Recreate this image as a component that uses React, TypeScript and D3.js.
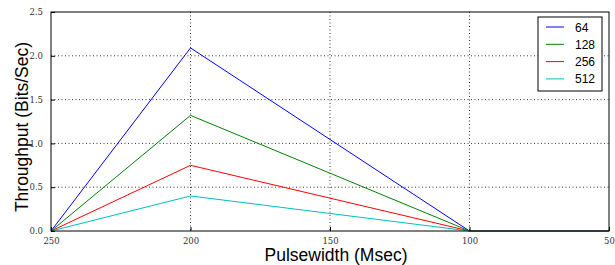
import { useEffect, useRef } from 'react';
import * as d3 from 'd3';

const pulseWidths = [250, 200, 100, 50];
const seriesNames = ['64', '128', '256', '512'];
const throughput64 = [0, 2.09, 0, 0];
const throughput128 = [0, 1.32, 0, 0];
const throughput256 = [0, 0.75, 0, 0];
const throughput512 = [0, 0.4, 0, 0];
const xTicks = [250, 200, 150, 100, 50];
const yTicks = [0, 0.5, 1.0, 1.5, 2.0, 2.5];

const seriesColours = ['#0000ff', '#008000', '#ff0000', '#00bfbf'];

const App = () => {
  const svgRef = useRef(null);

  useEffect(() => {
    const width = 615;
    const height = 265;
    const margin = { top: 12, right: 6, bottom: 34, left: 51 };

    const svg = d3.select(svgRef.current);
    svg.selectAll('*').remove();

    const xScale = d3
      .scaleLinear()
      .domain([250, 50])
      .range([margin.left, width - margin.right]);
    const yScale = d3
      .scaleLinear()
      .domain([0, 2.5])
      .range([height - margin.bottom, margin.top]);

    const tickFont = "'DejaVu Serif', 'Liberation Serif', serif";
    const labelFont = "'Liberation Sans', Arial, sans-serif";

    // grid
    const grid = svg.append('g');
    grid
      .selectAll('.ygrid')
      .data(yTicks.slice(1, -1))
      .enter()
      .append('line')
      .attr('x1', margin.left)
      .attr('x2', width - margin.right)
      .attr('y1', (d) => yScale(d))
      .attr('y2', (d) => yScale(d))
      .attr('stroke', '#000')
      .attr('stroke-width', 0.8)
      .attr('stroke-dasharray', '1,2.5');
    grid
      .selectAll('.xgrid')
      .data(xTicks.slice(1, -1))
      .enter()
      .append('line')
      .attr('x1', (d) => xScale(d))
      .attr('x2', (d) => xScale(d))
      .attr('y1', margin.top)
      .attr('y2', height - margin.bottom)
      .attr('stroke', '#000')
      .attr('stroke-width', 0.8)
      .attr('stroke-dasharray', '1,2.5');

    // lines
    const allSeries = [throughput64, throughput128, throughput256, throughput512];
    const lineGenerator = d3
      .line<number>()
      .x((d, i) => xScale(pulseWidths[i]))
      .y((d) => yScale(d));

    allSeries.forEach((values, i) => {
      svg
        .append('path')
        .attr('fill', 'none')
        .attr('stroke', seriesColours[i])
        .attr('stroke-width', 1)
        .attr('d', lineGenerator(values));
    });

    // frame
    svg
      .append('rect')
      .attr('x', margin.left)
      .attr('y', margin.top)
      .attr('width', width - margin.left - margin.right)
      .attr('height', height - margin.top - margin.bottom)
      .attr('fill', 'none')
      .attr('stroke', '#000')
      .attr('stroke-width', 1);

    // axes (ticks inward)
    const xAxis = d3
      .axisBottom(xScale)
      .tickValues(xTicks)
      .tickSizeInner(-4)
      .tickSizeOuter(0)
      .tickPadding(7)
      .tickFormat(d3.format('d'));
    svg
      .append('g')
      .attr('transform', `translate(0,${height - margin.bottom})`)
      .call(xAxis)
      .call((g) => g.select('.domain').remove())
      .call((g) =>
        g
          .selectAll('text')
          .style('font-family', tickFont)
          .style('font-size', '8.5px')
          .attr('fill', '#333')
      );

    const yAxis = d3
      .axisLeft(yScale)
      .tickValues(yTicks)
      .tickSizeInner(-4)
      .tickSizeOuter(0)
      .tickPadding(8)
      .tickFormat(d3.format('.1f'));
    svg
      .append('g')
      .attr('transform', `translate(${margin.left},0)`)
      .call(yAxis)
      .call((g) => g.select('.domain').remove())
      .call((g) =>
        g
          .selectAll('text')
          .style('font-family', tickFont)
          .style('font-size', '8.5px')
          .attr('fill', '#333')
      );

    // axis labels
    svg
      .append('text')
      .attr('x', 336)
      .attr('y', height - 4)
      .attr('text-anchor', 'middle')
      .style('font-family', labelFont)
      .style('font-size', '17.5px')
      .text('Pulsewidth (Msec)');

    svg
      .append('text')
      .attr('transform', `translate(28,127) rotate(-90)`)
      .attr('text-anchor', 'middle')
      .style('font-family', labelFont)
      .style('font-size', '17.5px')
      .text('Throughput (Bits/Sec)');

    // legend
    const legend = svg.append('g').attr('transform', 'translate(538,17)');
    legend
      .append('rect')
      .attr('width', 64)
      .attr('height', 74)
      .attr('fill', '#fff')
      .attr('stroke', '#000')
      .attr('stroke-width', 1);
    seriesNames.forEach((name, i) => {
      const y = 10 + i * 17.3;
      legend
        .append('line')
        .attr('x1', 8)
        .attr('x2', 26)
        .attr('y1', y)
        .attr('y2', y)
        .attr('stroke', seriesColours[i])
        .attr('stroke-width', 1);
      legend
        .append('text')
        .attr('x', 37)
        .attr('y', y + 4.5)
        .style('font-family', labelFont)
        .style('font-size', '12px')
        .text(name);
    });
  }, []);

  return (
    <svg
      ref={svgRef}
      width={615}
      height={265}
      style={{ position: 'absolute', left: 0, top: 0, background: '#fff' }}
    />
  );
};

export default App;
